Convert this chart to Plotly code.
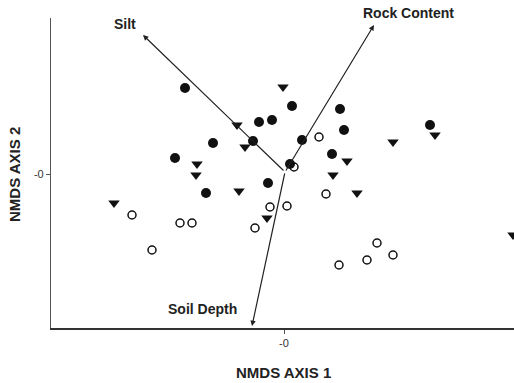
import plotly.graph_objects as go

# NMDS scores (arbitrary units)
filled_x = [-0.99, -0.25, -0.12, 0.08, 0.56, 0.60, 0.18, -0.31, -0.71, -1.09, 0.48, 0.06, -0.16, -0.78, 1.46]
filled_y = [0.86, 0.52, 0.54, 0.68, 0.65, 0.44, 0.34, 0.33, 0.31, 0.16, 0.20, 0.10, -0.09, -0.19, 0.49]

tri_x = [-0.01, -0.47, -0.39, -0.87, -0.88, -0.45, -1.70, -0.17, 0.63, 0.49, 0.73, 1.09, 1.51, 2.29]
tri_y = [0.87, 0.49, 0.27, 0.10, -0.01, -0.17, -0.29, -0.44, 0.13, -0.01, -0.19, 0.32, 0.39, -0.61]

open_x = [0.35, 0.10, 0.42, -0.14, 0.03, -0.29, -1.52, -1.04, -0.92, -1.32, 0.55, 0.83, 0.93, 1.09]
open_y = [0.37, 0.07, -0.20, -0.33, -0.32, -0.54, -0.41, -0.49, -0.49, -0.76, -0.91, -0.86, -0.69, -0.81]

# environmental vectors (origin and tips)
vec_names = ["Silt", "Rock Content", "Soil Depth"]
vec_x0 = [0.01, 0.01, 0.01]
vec_y0 = [0.02, 0.02, 0.02]
vec_x1 = [-1.41, 0.90, -0.32]
vec_y1 = [1.39, 1.49, -1.52]
lab_x = [-1.59, 1.24, -0.82]
lab_y = [1.50, 1.55, -1.35]
lab_shift = [0, 6, 0]

x_range = [-2.33, 2.30]
y_range = [-1.54, 1.56]
tick_vals = [0]
tick_text = ["-0"]

fig = go.Figure()
fig.add_trace(go.Scatter(x=filled_x, y=filled_y, mode="markers",
                         marker=dict(symbol="circle", size=10, color="#111111"),
                         showlegend=False))
fig.add_trace(go.Scatter(x=tri_x, y=tri_y, mode="markers",
                         marker=dict(symbol="triangle-down", size=10, color="#111111"),
                         showlegend=False))
fig.add_trace(go.Scatter(x=open_x, y=open_y, mode="markers",
                         marker=dict(symbol="circle-open", size=8, color="#111111",
                                     line=dict(width=1.5, color="#111111")),
                         showlegend=False))

font_bold = "Liberation Sans, Arial, sans-serif"
for i in range(len(vec_names)):
    fig.add_annotation(x=vec_x1[i], y=vec_y1[i], ax=vec_x0[i], ay=vec_y0[i],
                       xref="x", yref="y", axref="x", ayref="y",
                       showarrow=True, arrowhead=2, arrowsize=0.9, arrowwidth=1.2,
                       arrowcolor="#222222", text="")
    fig.add_annotation(x=lab_x[i], y=lab_y[i], xref="x", yref="y", yshift=lab_shift[i],
                       xanchor="center", yanchor="middle",
                       text="<b>" + vec_names[i] + "</b>", showarrow=False,
                       font=dict(family=font_bold, size=14, color="#222222"))

fig.add_annotation(x=0.502, y=0, xref="paper", yref="paper", yshift=-44,
                   xanchor="center", yanchor="middle",
                   text="<b>NMDS AXIS 1</b>", showarrow=False,
                   font=dict(family=font_bold, size=15, color="#222222"))
fig.add_annotation(x=0, y=0.4935, xref="paper", yref="paper", xshift=-37,
                   xanchor="center", yanchor="middle",
                   text="<b>NMDS AXIS 2</b>", showarrow=False, textangle=-90,
                   font=dict(family=font_bold, size=15, color="#222222"))

fig.update_layout(
    width=514, height=383,
    margin=dict(l=51, r=0, t=18, b=55),
    paper_bgcolor="white", plot_bgcolor="white",
    hovermode=False,
    xaxis=dict(range=x_range, showgrid=False, zeroline=False,
               showline=True, linecolor="#333333", linewidth=1.5,
               ticks="outside", ticklen=4, tickcolor="#555555",
               tickvals=tick_vals, ticktext=tick_text,
               tickfont=dict(family=font_bold, size=11, color="#333333")),
    yaxis=dict(range=y_range, showgrid=False, zeroline=False,
               showline=True, linecolor="#555555", linewidth=1.2,
               ticks="outside", ticklen=4, tickcolor="#555555",
               tickvals=tick_vals, ticktext=tick_text,
               tickfont=dict(family=font_bold, size=11, color="#333333")),
)

fig.write_html("out.html", config={"displayModeBar": False},
               post_script="document.body.style.margin='0';document.body.style.overflow='hidden';")
